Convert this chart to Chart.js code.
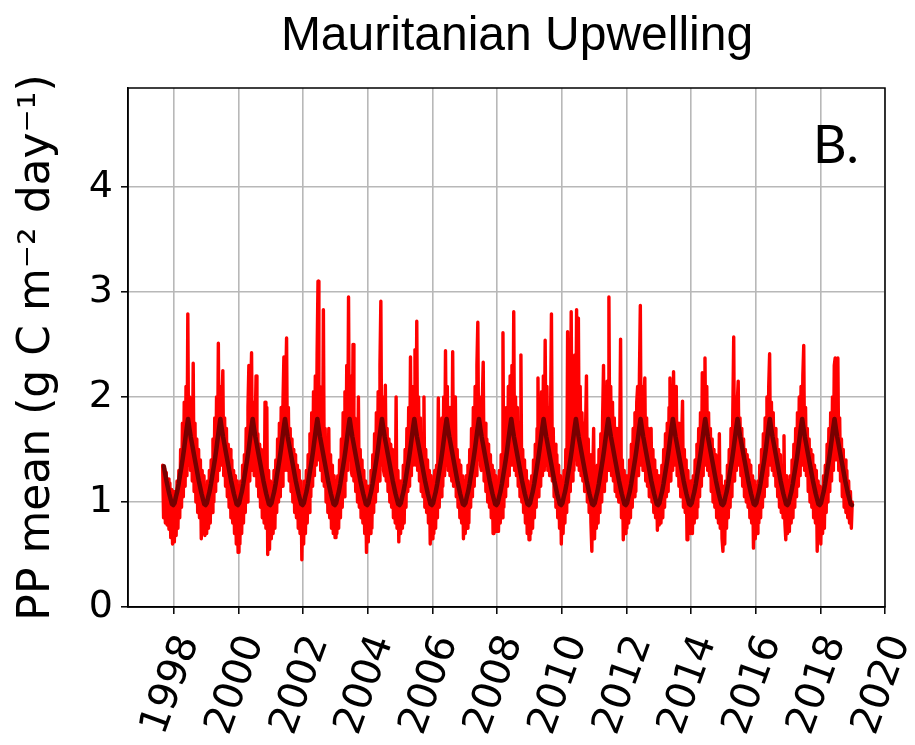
<!DOCTYPE html>
<html><head><meta charset="utf-8">
<script src="https://cdn.jsdelivr.net/npm/chart.js@4.4.1/dist/chart.umd.min.js"></script>
<style>html,body{margin:0;padding:0;background:#fff;}#wrap{width:915px;height:745px;}</style>
</head><body><div id="wrap"><canvas id="c" width="915" height="745"></canvas></div>
<script>
const chartTitle = 'Mauritanian Upwelling';
const panelLabel = 'B.';
const yAxisTitle = 'PP mean (g C m\u207B\u00B2 day\u207B\u00B9)';
const xTickYears = [1998, 2000, 2002, 2004, 2006, 2008, 2010, 2012, 2014, 2016, 2018, 2020];
const yTickValues = [0, 1, 2, 3, 4];

// climatology, 24 half-month values (Jan .. Dec)
const climHalfMonth = [0.99,1.05,1.10,1.17,1.25,1.33,1.41,1.50,1.60,1.70,1.79,1.70,
                       1.62,1.55,1.48,1.41,1.34,1.27,1.20,1.14,1.08,1.03,0.98,0.97];

// PP, ~10-day values (36 per year, Jan..Dec)
const pp1997 = [1.35,0.85,1.32,0.8,1.28,0.78,1.22,0.74,1.18,0.66,1.12,0.6,1.1];
const pp1998 = [0.62,1.1,0.68, 1.2,0.75,1.3, 0.85,1.5,0.95, 1.75,1.05,1.95, 1.15,2.1,1.25, 2.79,1.35,2.0, 1.3,1.95,1.2, 2.32,1.1,1.75, 1.0,1.6,0.9, 1.5,0.85,1.4, 0.65,1.3,0.7, 1.25,0.68,1.15];
const pp1999 = [0.7,1.2,0.75, 1.3,0.8,1.4, 0.9,1.6,1.0, 1.8,1.1,2.0, 1.2,2.51,1.3, 2.1,1.35,1.9, 2.25,1.25,1.8, 1.15,1.7,1.05, 1.55,0.95,1.5, 0.85,1.4,0.8, 1.3,0.7,1.25, 0.6,1.2,0.52];
const pp2000 = [1.15,0.6,1.2, 0.7,1.35,0.8, 1.45,0.9,1.7, 1.0,1.9,2.3, 1.2,2.0,2.42, 1.3,1.95,1.25, 1.7,2.2,1.15, 1.65,1.05,1.55, 0.95,1.5,0.85, 1.45,0.8,1.95, 0.75,1.9,0.5, 1.3,0.55,1.2];
const pp2001 = [0.65,1.15,0.7, 1.3,0.75,1.4, 0.9,1.6,1.0, 1.75,1.05,1.9, 1.15,1.95,2.38, 1.3,2.1,2.56, 1.3,1.9,1.2, 1.7,1.1,1.6, 1.0,1.5,0.9, 1.45,0.85,1.35, 0.75,1.3,0.7, 1.2,0.45,1.1];
const pp2002 = [0.6,1.2,0.7, 1.3,0.8,1.45, 0.9,1.65,1.05, 1.85,1.15,2.05, 1.25,2.2,1.35, 2.4,3.1,1.4, 2.1,1.3,1.95, 1.2,2.83,1.15, 1.7,1.0,1.6, 0.9,1.7,0.85, 1.45,0.75,1.35, 0.7,1.25,0.66];
const pp2003 = [1.2,0.7,1.25, 0.75,1.4,0.85, 1.6,0.95,1.85, 1.05,2.05,1.2, 2.3,1.3,2.95, 1.4,2.2,1.3, 1.25,2.5,1.2, 1.8,1.1,1.65, 1.0,2.0,0.95, 1.5,0.85,1.4, 0.8,1.3,0.7, 1.2,0.52,1.15];
const pp2004 = [0.62,1.15,0.7, 1.3,0.75,1.45, 0.9,1.65,1.0, 1.85,1.1,2.05, 1.2,2.3,2.91, 1.35,2.0,1.3, 1.25,2.11,1.2, 1.7,1.1,1.6, 1.0,1.55,0.95, 1.5,0.85,1.4, 0.8,2.0,0.75, 1.3,0.62,1.2];
const pp2005 = [0.7,1.2,0.75, 1.35,0.8,1.5, 0.95,1.7,1.1, 1.9,1.15,2.38, 1.25,2.1,1.35, 1.4,2.45,1.35, 2.72,1.3,2.0, 1.2,1.8,1.1, 1.65,1.05,2.0, 0.95,1.5,0.9, 1.4,0.8,1.3, 0.6,1.25,0.65];
const pp2006 = [1.2,0.7,1.3, 0.75,1.35,0.85, 1.99,0.95,1.6, 1.05,1.8,1.15, 2.0,1.25,2.44, 1.35,2.1,1.3, 1.9,1.25,1.8, 1.2,2.43,1.15, 1.65,2.0,1.05, 1.5,0.95,1.4, 0.85,1.35,0.8, 1.25,0.65,1.2];
const pp2007 = [0.7,1.25,0.75, 1.35,0.8,1.5, 0.95,1.7,1.05, 1.9,1.15,2.1, 1.25,2.3,2.71, 1.4,2.0,1.35, 1.3,1.95,2.33, 1.2,1.75,1.1, 1.6,1.0,1.55, 0.95,1.45,0.85, 1.35,0.7,1.3, 0.75,1.25,0.72];
const pp2008 = [1.2,0.72,1.3, 0.8,1.45,0.85, 2.61,0.95,1.7, 1.05,1.9,1.15, 2.1,1.25,2.2, 1.35,2.3,1.4, 2.81,1.3,2.0, 1.25,1.9,1.15, 1.75,1.05,2.4, 1.0,1.5,0.9, 1.4,0.8,1.3, 0.7,1.2,0.64];
const pp2009 = [1.15,0.7,1.25, 0.75,1.4,0.85, 1.55,0.95,1.7, 2.18,1.05,1.9, 1.15,2.05,1.25, 2.2,1.3,2.54, 1.35,2.1,1.3, 1.9,1.25,1.8, 2.79,1.2,1.7, 1.05,1.55,0.95, 1.45,0.85,1.35, 0.75,1.25,0.6];
const pp2010 = [1.2,0.7,1.3, 0.8,1.5,0.9, 2.62,1.0,1.8, 1.1,2.81,1.2, 2.2,1.3,2.4, 1.4,2.83,1.35, 2.75,1.3,2.1, 1.25,1.85,1.2, 1.75,1.1,1.7, 2.2,1.0,1.6, 0.9,1.45,0.8, 0.53,1.25,1.7];
const pp2011 = [0.65,1.2,0.75, 1.35,0.8,1.5, 0.9,1.65,1.0, 1.8,2.3,1.1, 2.0,1.2,2.15, 1.3,2.95,1.35, 2.1,1.25,1.95, 1.2,1.8,1.1, 1.7,1.05,1.6, 1.0,1.55,2.55, 0.85,1.4,0.64, 1.3,0.7,1.25];
const pp2012 = [0.75,1.25,0.8, 1.4,0.85,1.55, 0.95,1.7,1.05, 1.85,1.1,1.95, 2.1,1.25,2.2, 2.87,1.35,2.1, 1.3,1.95,2.18, 1.2,1.8,1.15, 1.7,1.05,1.6, 1.7,1.0,1.5, 0.9,1.4,0.85, 1.3,0.73,1.25];
const pp2013 = [0.78,1.25,0.8, 1.35,0.85,1.5, 0.95,1.65,1.05, 1.75,1.1,1.9, 2.18,1.2,1.95, 1.3,2.24,1.35, 1.9,2.1,1.25, 1.75,1.15,1.65, 1.05,1.6,1.96, 0.95,1.5,0.9, 1.4,0.64,1.3, 0.75,1.2,0.7];
const pp2014 = [1.2,0.7,1.25, 0.8,1.4,0.85, 1.55,0.95,1.7, 1.05,1.85,1.15, 2.23,1.25,2.0, 2.37,1.35,2.1, 1.3,1.85,1.25, 1.7,1.1,1.6, 1.0,1.5,0.95, 1.45,0.85,1.4, 0.8,1.65,0.75, 1.25,0.65,0.53];
const pp2015 = [1.15,0.6,1.2, 0.75,1.35,0.85, 1.5,0.95,1.7, 1.05,1.85,2.57, 1.2,2.0,1.3, 1.95,2.15,1.35, 1.8,1.25,1.7, 1.15,1.6,1.05, 1.5,1.0,1.45, 0.95,1.4,0.85, 1.35,0.8,1.25, 0.56,1.2,0.65];
const pp2016 = [1.15,0.7,1.2, 0.8,1.35,0.85, 1.5,0.95,1.65, 1.05,1.8,1.15, 2.0,1.25,2.1, 2.41,1.35,1.95, 1.3,1.85,1.25, 1.7,1.15,1.6, 1.05,1.5,0.95, 1.45,0.9,1.35, 0.85,1.63,0.8, 0.64,1.25,0.7];
const pp2017 = [1.2,0.72,1.25, 0.8,1.4,0.85, 1.55,0.95,1.7, 1.05,1.85,1.15, 2.0,1.25,2.1, 1.35,2.2,2.49, 1.3,1.9,1.25, 1.7,1.1,1.6, 1.0,1.5,0.95, 1.45,0.85,1.35, 0.8,1.3,0.53, 1.2,0.65,1.15];
const pp2018 = [0.6,1.1,0.7, 1.25,0.75,1.35, 0.9,1.55,1.0, 1.7,1.1,1.85, 1.2,2.0,1.3, 2.3,2.37,1.4, 1.95,2.37,1.3, 1.8,1.2,1.6, 1.05,1.5,0.95, 1.4,0.9,1.3, 0.85,1.2,0.8, 1.1,0.75,1.0];

// [year, first 10-day bin, values]
const ppYears = [[1997,23,pp1997],[1998,0,pp1998],[1999,0,pp1999],[2000,0,pp2000],[2001,0,pp2001],
  [2002,0,pp2002],[2003,0,pp2003],[2004,0,pp2004],[2005,0,pp2005],[2006,0,pp2006],[2007,0,pp2007],
  [2008,0,pp2008],[2009,0,pp2009],[2010,0,pp2010],[2011,0,pp2011],[2012,0,pp2012],[2013,0,pp2013],
  [2014,0,pp2014],[2015,0,pp2015],[2016,0,pp2016],[2017,0,pp2017],[2018,0,pp2018]];
const climStart = 1997.65, climEndYear = 2018;

const redPoints = [];
ppYears.forEach(([yr, b0, vals]) => vals.forEach((v, i) => redPoints.push({x: yr + (b0 + i + 0.5) / 36, y: v})));
const climPoints = [];
for (let yr = 1997; yr <= climEndYear; yr++) {
  climHalfMonth.forEach((v, k) => { const x = yr + (k + 0.5) / 24; if (x >= climStart) climPoints.push({x, y: v}); });
}

const decor = {
  id: 'decor',
  afterDraw(chart) {
    const {ctx, chartArea: a} = chart;
    ctx.save();
    ctx.strokeStyle = '#000'; ctx.lineWidth = 1.5;
    ctx.strokeRect(a.left, a.top, a.right - a.left, a.bottom - a.top);
    ctx.fillStyle = '#000';
    ctx.font = '48px "Liberation Sans"';
    ctx.textAlign = 'center'; ctx.textBaseline = 'alphabetic';
    ctx.fillText(chartTitle, a.left + 389, 50);
    ctx.font = '52px Lato';
    ctx.textAlign = 'left';
    ctx.fillText(panelLabel, a.right - 72, a.top + 75);
    ctx.restore();
  }
};

const gridOpts = {color: '#b8b8b8', lineWidth: 1.6, tickColor: '#000', tickLength: 7, tickWidth: 1.5, drawTicks: true};
const borderOpts = {color: '#000', width: 1.5};

new Chart(document.getElementById('c'), {
  type: 'line',
  data: {datasets: [
    {label: 'PP', data: redPoints, borderColor: '#ff0000', borderWidth: 3.4, pointRadius: 0, tension: 0,
     borderJoinStyle: 'round', borderCapStyle: 'round', order: 2},
    {label: 'Climatology', data: climPoints, borderColor: '#780000', borderWidth: 4.5, pointRadius: 0, tension: 0,
     borderJoinStyle: 'round', borderCapStyle: 'round', order: 1}
  ]},
  options: {
    responsive: false, animation: false, devicePixelRatio: 1,
    layout: {padding: {left: 0, right: 30, top: 88, bottom: 0}},
    plugins: {legend: {display: false}, tooltip: {enabled: false}, title: {display: false}},
    scales: {
      x: {
        type: 'linear', min: 1996.58, max: 2020,
        afterBuildTicks: s => { s.ticks = xTickYears.map(v => ({value: v})); },
        afterFit: s => { s.height = 138; s.paddingLeft = 0; s.paddingRight = 0; },
        ticks: {autoSkip: false, minRotation: 70, maxRotation: 70, labelOffset: 15, padding: 15, color: '#000',
                font: {family: 'DejaVu Sans', size: 40}, callback: v => String(v)},
        grid: gridOpts, border: borderOpts
      },
      y: {
        min: 0, max: 4.94,
        afterBuildTicks: s => { s.ticks = yTickValues.map(v => ({value: v})); },
        afterFit: s => { s.width = 128; },
        ticks: {padding: 8, color: '#000', font: {family: 'DejaVu Sans', size: 38}, callback: v => String(v)},
        grid: gridOpts, border: borderOpts,
        title: {display: true, text: yAxisTitle, color: '#000',
                font: {family: 'DejaVu Sans', size: 44, lineHeight: 1}, padding: {top: 16, bottom: 0}}
      }
    }
  },
  plugins: [decor]
});
</script></body></html>
